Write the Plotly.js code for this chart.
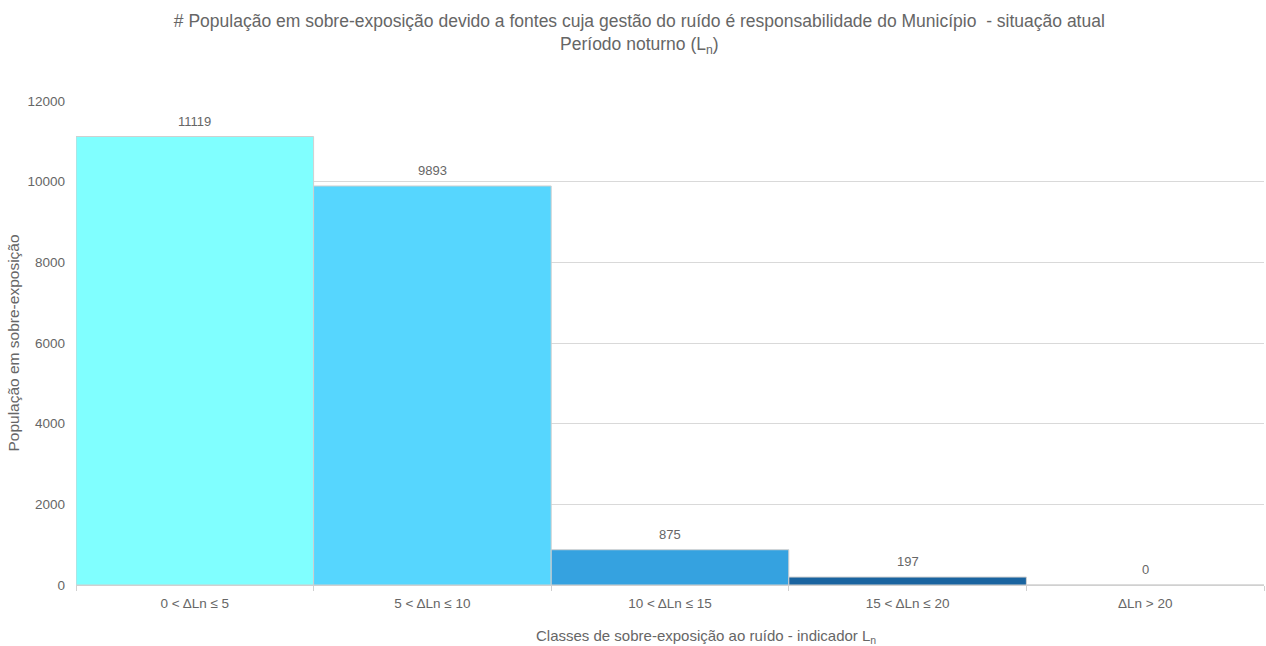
<!DOCTYPE html>
<html>
<head>
<meta charset="utf-8">
<script src="https://cdn.plot.ly/plotly-3.0.1.min.js"></script>
<style>html,body{margin:0;padding:0;background:#fff;}#chart{width:1266px;height:646px;}</style>
</head>
<body>
<div id="chart"></div>
<script>
const categories = ["0 < ΔLn ≤ 5", "5 < ΔLn ≤ 10", "10 < ΔLn ≤ 15", "15 < ΔLn ≤ 20", "ΔLn > 20"];
const population = [11119, 9893, 875, 197, 0];
const barColors = ["#80FFFF", "#56D6FE", "#35A2E0", "#1A64A0", "#0D3B66"];
const yTicks = [0, 2000, 4000, 6000, 8000, 10000, 12000];

const font = "Liberation Sans, Arial, sans-serif";
const grey = "#666666";

const trace = {
  type: "bar",
  x: categories,
  y: population,
  marker: {color: barColors, line: {color: "#d0d0d0", width: 1}},
  hoverinfo: "x+y"
};

const annotations = categories.map((c, i) => ({
  x: c, y: population[i], xref: "x", yref: "y",
  text: String(population[i]), showarrow: false,
  yanchor: "bottom", yshift: 6,
  font: {family: font, size: 13, color: grey}
}));
annotations.push({
  text: "Classes de sobre-exposição ao ruído - indicador L<sub>n</sub>",
  xref: "paper", yref: "paper", x: 0.530, y: -0.107,
  xanchor: "center", yanchor: "middle", showarrow: false,
  font: {family: font, size: 15, color: grey}
});

const layout = {
  width: 1266, height: 646,
  margin: {l: 76, r: 2, t: 101, b: 61},
  paper_bgcolor: "#fff", plot_bgcolor: "#fff",
  bargap: 0,
  showlegend: false,
  font: {family: font, color: grey, size: 13},
  title: {
    text: "# População em sobre-exposição devido a fontes cuja gestão do ruído é responsabilidade do Município  - situação atual<br>Período noturno (L<sub>n</sub>)",
    x: 0.505, xanchor: "center", xref: "container", yref: "container", y: 0.958, yanchor: "middle",
    font: {family: font, size: 17.5, color: grey}
  },
  xaxis: {
    type: "category",
    tickson: "boundaries",
    ticks: "outside", ticklen: 5, tickcolor: "#d0d0d0",
    showline: true, linecolor: "#d0d0d0", linewidth: 1,
    showgrid: false,
    ticklabelstandoff: 6,
    tickfont: {family: font, size: 13.5, color: grey}
  },
  yaxis: {
    range: [0, 12000],
    tickvals: yTicks,
    ticktext: yTicks.map(String),
    showgrid: true, gridcolor: "#d9d9d9", gridwidth: 1,
    zeroline: false, showline: false,
    ticks: "", ticklabelstandoff: 10,
    tickfont: {family: font, size: 13.5, color: grey},
    title: {text: "População em sobre-exposição", standoff: 4,
            font: {family: font, size: 15.5, color: grey}}
  },
  annotations: annotations
};

Plotly.newPlot("chart", [trace], layout, {displayModeBar: false, staticPlot: true});
</script>
</body>
</html>
